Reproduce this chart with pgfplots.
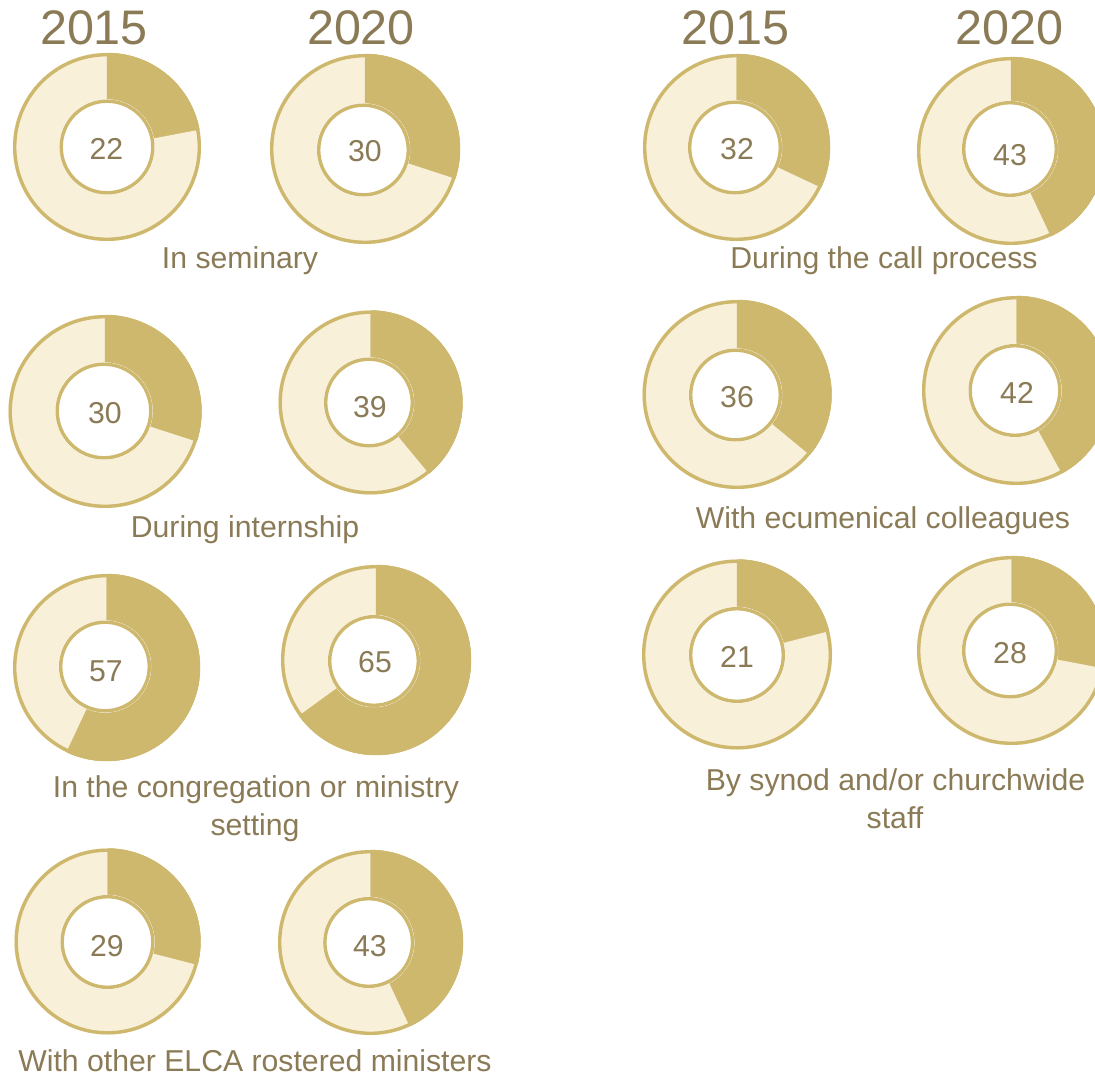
\documentclass[border=0pt]{standalone}
\usepackage{pgfplots}
\usepackage{pgfplotstable}
\pgfplotsset{compat=1.18}
\usepackage{fontspec}
\setmainfont{Liberation Sans}
\definecolor{gold}{HTML}{CEB86E}
\definecolor{lightgold}{HTML}{F9F0DA}
\definecolor{textc}{HTML}{8A7A55}
\newcommand\labfont{\fontsize{30.2}{38}\selectfont}
\newcommand\yearfont{\fontsize{48.5}{56}\selectfont}

% px py = donut centre, R = outer radius, ix iy ir = inner circle, tx ty = number centre, v = percent
\pgfplotstableread{
px     py     R     ix     iy     ir    tx     ty     v
107    147    94    107    147    47.5  106.5  148.5  22
365    149    95    363.5  150    46.5  365    151    30
105    411.5  96.5  104    411    48.5  105    413    30
370.5  402.5  92    369    402.5  45    370    407    39
106.5  667.5  93.5  105    666.5  46    106    671    57
376    660    95    374    661    46    375    662    65
107.5  941.5  93    107.5  942    47    107    946    29
370.5  942.5  92.5  368.7  942.5  45.5  370    946    43
736.5  147.5  93.5  735    147.5  47    737    149    32
1011   151    94    1010   149    48    1010   155    43
737    394.5  94.5  735.5  395    46.5  737    397    36
1016.5 390.5  94.5  1015   390.5  46.5  1017   393    42
737    654.5  95    737    655    48    737    657    21
1011.5 650.5  94.5  1010   650.5  48    1010   653    28
}\donutdata

\begin{document}
\begin{tikzpicture}
\begin{axis}[
  x=1pt, y=1pt,
  xmin=0, xmax=1095, ymin=0, ymax=1078,
  y dir=reverse,
  hide axis, clip=false,
]
\addplot[
  scatter, only marks, mark=*, mark size=0pt,
  mark options={draw=none, fill=none},
  point meta=\thisrow{v},
  visualization depends on={\thisrow{px} \as \dpx},
  visualization depends on={\thisrow{py} \as \dpy},
  visualization depends on={\thisrow{R} \as \dR},
  visualization depends on={\thisrow{ix} \as \dix},
  visualization depends on={\thisrow{iy} \as \diy},
  visualization depends on={\thisrow{ir} \as \dIr},
  visualization depends on={\thisrow{tx} \as \dtx},
  visualization depends on={\thisrow{ty} \as \dty},
  visualization depends on={\thisrow{v} \as \dv},
  scatter/@pre marker code/.code={%
    \pgfkeys{/pgf/fpu=false}%
    \pgfmathsetmacro\offix{\dix-\dpx}%
    \pgfmathsetmacro\offiy{\dpy-\diy}%
    \pgfmathsetmacro\offtx{\dtx-\dpx}%
    \pgfmathsetmacro\offty{\dpy-\dty-10.8}%
    \pgfmathsetmacro\endang{90-3.6*\dv}%
    \pgfmathsetmacro\rout{\dR}%
    \pgfmathsetmacro\rin{\dIr}%
    \pgfmathtruncatemacro\vint{round(\dv)}%
    \fill[lightgold] (0pt,0pt) circle[radius=\rout pt];
    \fill[gold] (0pt,0pt) -- (90:\rout pt) arc[start angle=90, end angle=\endang, radius=\rout pt] -- cycle;
    \draw[gold, line width=3.4pt] (0pt,0pt) circle[radius=\rout pt-1.7pt];
    \fill[white] (\offix pt,\offiy pt) circle[radius=\rin pt];
    \draw[gold, line width=3.4pt] (\offix pt,\offiy pt) circle[radius=\rin pt-1.7pt];
    \node[text=textc, font=\labfont, anchor=base, inner sep=0pt] at (\offtx pt,\offty pt) {\vint};
  },
  scatter/@post marker code/.code={},
] table[x=px, y=py] {\donutdata};

\node[text=textc, font=\yearfont, anchor=base] at (axis cs:94,45) {2015};
\node[text=textc, font=\yearfont, anchor=base] at (axis cs:361,45) {2020};
\node[text=textc, font=\yearfont, anchor=base] at (axis cs:735.5,45) {2015};
\node[text=textc, font=\yearfont, anchor=base] at (axis cs:1009.5,45) {2020};

\node[text=textc, font=\labfont, anchor=base, inner sep=0pt] at (axis cs:240,269) {In seminary};
\node[text=textc, font=\labfont, anchor=base, inner sep=0pt] at (axis cs:245,537) {During internship};
\node[text=textc, font=\labfont, anchor=base, inner sep=0pt] at (axis cs:256,797) {In the congregation or ministry};
\node[text=textc, font=\labfont, anchor=base, inner sep=0pt] at (axis cs:255,835) {setting};
\node[text=textc, font=\labfont, anchor=base, inner sep=0pt] at (axis cs:255,1071) {With other ELCA rostered ministers};
\node[text=textc, font=\labfont, anchor=base, inner sep=0pt] at (axis cs:884,268) {During the call process};
\node[text=textc, font=\labfont, anchor=base, inner sep=0pt] at (axis cs:883,528) {With ecumenical colleagues};
\node[text=textc, font=\labfont, anchor=base, inner sep=0pt] at (axis cs:895.5,790) {By synod and/or churchwide};
\node[text=textc, font=\labfont, anchor=base, inner sep=0pt] at (axis cs:895,828) {staff};
\end{axis}
\pgfresetboundingbox
\path[use as bounding box] (current axis.south west) rectangle (current axis.north east);
\end{tikzpicture}
\end{document}
